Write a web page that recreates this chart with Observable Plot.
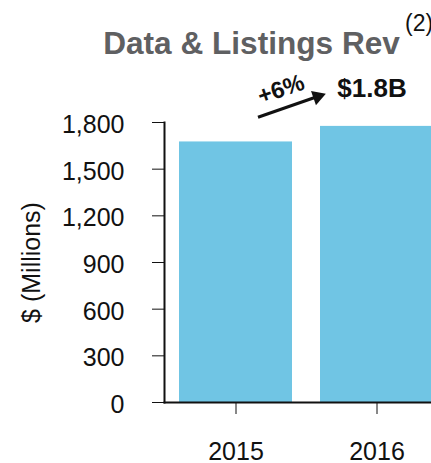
<!DOCTYPE html>
<html>
<head>
<meta charset="utf-8">
<script src="https://cdn.jsdelivr.net/npm/d3@7"></script>
<script src="https://cdn.jsdelivr.net/npm/@observablehq/plot@0.6"></script>
<style>
  html, body { margin: 0; padding: 0; background: #fff; overflow: hidden; }
  #wrap { position: relative; width: 431px; height: 463px; overflow: hidden; }
  .ttl { position: absolute; white-space: nowrap; line-height: 1; font-family: 'Liberation Sans', Arial, sans-serif; }
</style>
</head>
<body>
<div id="wrap"></div>
<script>
const years = ["2015", "2016"];
const revenue = [1675, 1775];
const yTicks = [0, 300, 600, 900, 1200, 1500, 1800];
const titleText = "Data & Listings Rev";
const footnote = "(2)";
const yLabel = "$ (Millions)";
const growthLabel = "+6%";
const totalLabel = "$1.8B";

const data = years.map((year, i) => ({year, value: revenue[i]}));

function shift(dx1, dy1, dx2, dy2) {
  return function(index, scales, values, dimensions, context, next) {
    const x1 = Array.from(values.x1, v => v + dx1);
    const y1 = Array.from(values.y1, v => v + dy1);
    const x2 = Array.from(values.x2, v => v + dx2);
    const y2 = Array.from(values.y2, v => v + dy2);
    return next(index, scales, {...values, x1, y1, x2, y2}, dimensions, context);
  };
}

const chart = Plot.plot({
  width: 447,
  height: 463,
  marginLeft: 164,
  marginRight: 0,
  marginTop: 122,
  marginBottom: 61,
  style: "max-width:none;overflow:visible;font-family:'Liberation Sans',Arial,sans-serif;font-size:25px;color:#111;background:none;",
  x: {domain: years, paddingInner: 0.2, paddingOuter: 0.1, label: null},
  y: {domain: [0, 1800], ticks: yTicks, label: null},
  marks: [
    Plot.barY(data, {x: "year", y: "value", fill: "#70c5e4"}),
    Plot.axisY({ticks: yTicks, tickSize: 12, tickFormat: () => "", label: null}),
    Plot.axisY({ticks: yTicks, tickSize: 0, tickPadding: 40, dy: 2.5, tickFormat: d3.format(","), label: null}),
    Plot.axisX({tickSize: 12, tickPadding: 28, label: null}),
    Plot.frame({anchor: "left", strokeWidth: 2}),
    Plot.frame({anchor: "bottom", strokeWidth: 2}),
    Plot.text([yLabel], {frameAnchor: "left", dx: -133, rotate: -90, fontSize: 25, textAnchor: "middle", lineAnchor: "middle"}),
    Plot.text([data[1]], {x: "year", y: "value", text: () => totalLabel, dx: -5, dy: -37.4, fontSize: 26, fontWeight: "bold"}),
    Plot.text([data[0]], {x: "year", y: "value", text: () => growthLabel, dx: 45, dy: -52.5, rotate: -19, fontSize: 23.5, fontWeight: "bold"}),
    Plot.link([{from: data[0], to: data[1]}], {
      x1: d => d.from.year, y1: d => d.from.value,
      x2: d => d.to.year, y2: d => d.to.value,
      stroke: "#111", strokeWidth: 3,
      render: shift(22, -24.7, -62.25, -28.9)
    }),
    Plot.dot([data[1]], {x: "year", y: "value", dx: -59.4, dy: -29.8, symbol: "triangle", r: 5.6, rotate: 71, fill: "#111", stroke: "none"})
  ]
});

const wrap = document.getElementById("wrap");
wrap.appendChild(chart);
chart.style.position = "absolute";
chart.style.left = "0px";
chart.style.top = "0px";

const t = document.createElement("div");
t.className = "ttl";
t.textContent = titleText;
t.style.cssText += "left:251.5px;top:28px;transform:translateX(-50%);font-size:31.6px;font-weight:bold;color:#5f6062;";
wrap.appendChild(t);

const f = document.createElement("div");
f.className = "ttl";
f.textContent = footnote;
f.style.cssText += "left:405px;top:11.5px;font-size:23px;color:#111;";
wrap.appendChild(f);
</script>
</body>
</html>
